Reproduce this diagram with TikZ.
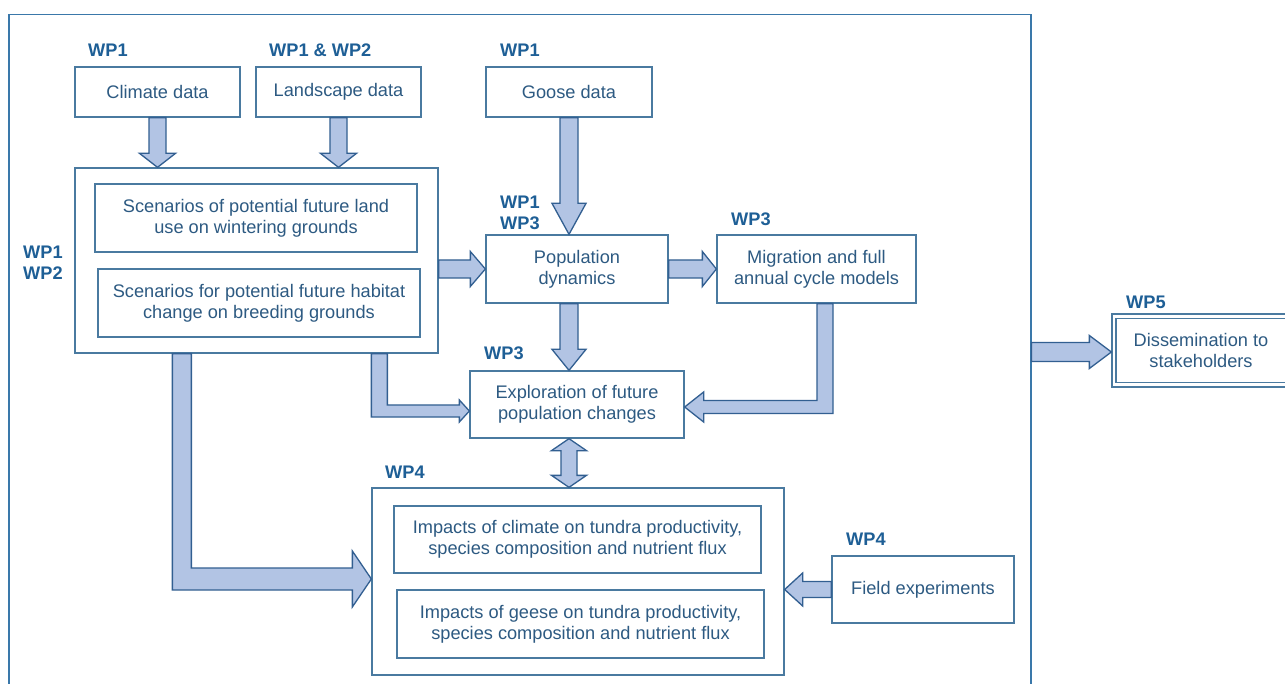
\documentclass[tikz,border=0pt]{standalone}
\usepackage{fontspec}
\setmainfont{Liberation Sans}
\usetikzlibrary{calc}
\definecolor{labc}{HTML}{1E5F96}
\definecolor{txtc}{HTML}{2D5A82}
\definecolor{boxc}{HTML}{4A7AA0}
\definecolor{arrfill}{HTML}{B2C4E4}
\definecolor{arrline}{HTML}{325F91}
\definecolor{framec}{HTML}{3A78AA}
\newcommand\fsz{\fontsize{18.2}{21}\selectfont}
% vertical arrow pointing down: #1 start, #2 tip, #3 shaft half, #4 head half, #5 head length
\newcommand\ArrDown[5]{\draw[blk] ($(#1)+(-#3,0)$) -- ($(#2)+(-#3,-#5)$) -- ($(#2)+(-#4,-#5)$) -- (#2) -- ($(#2)+(#4,-#5)$) -- ($(#2)+(#3,-#5)$) -- ($(#1)+(#3,0)$) -- cycle;}
\newcommand\ArrRight[5]{\draw[blk] ($(#1)+(0,-#3)$) -- ($(#2)+(-#5,-#3)$) -- ($(#2)+(-#5,-#4)$) -- (#2) -- ($(#2)+(-#5,#4)$) -- ($(#2)+(-#5,#3)$) -- ($(#1)+(0,#3)$) -- cycle;}
\newcommand\ArrLeft[5]{\draw[blk] ($(#1)+(0,-#3)$) -- ($(#2)+(#5,-#3)$) -- ($(#2)+(#5,-#4)$) -- (#2) -- ($(#2)+(#5,#4)$) -- ($(#2)+(#5,#3)$) -- ($(#1)+(0,#3)$) -- cycle;}
\begin{document}
\begin{tikzpicture}[x=1pt,y=-1pt,
  box/.style={draw=boxc, line width=1.3pt, fill=white, text=txtc, align=center, font=\fsz, inner sep=0pt},
  lab/.style={anchor=west, font=\bfseries\fsz, text=labc, inner sep=0pt, align=left},
  blk/.style={fill=arrfill, draw=arrline, line width=1.3pt, line join=miter}]
\useasboundingbox (0,0) rectangle (1285,684);
\clip (0,0) rectangle (1285,684);
\fill[white] (0,0) rectangle (1285,684);
% outer frame
\node[draw=framec, line width=1.5pt, minimum width=1022pt, minimum height=720pt, anchor=north west, inner sep=0pt] (frame) at (8,14) {};
% top data boxes
\node[box, minimum width=165pt, minimum height=50pt] (climate) at (157.5,92) {Climate data};
\node[box, minimum width=165pt, minimum height=50pt] (land) at (338.5,92) {Landscape data};
\node[box, minimum width=166pt, minimum height=50pt] (goose) at (569,92) {Goose data};
% scenarios
\node[box, minimum width=363pt, minimum height=185pt] (scen) at (256.5,260.5) {};
\node[box, minimum width=322pt, minimum height=68pt] (scen1) at (256,218) {Scenarios of potential future land\\use on wintering grounds};
\node[box, minimum width=322pt, minimum height=68pt] (scen2) at (259,303) {Scenarios for potential future habitat\\change on breeding grounds};
% models
\node[box, minimum width=182pt, minimum height=68pt] (pop) at (577,269) {Population\\dynamics};
\node[box, minimum width=199pt, minimum height=68pt] (mig) at (816.5,269) {Migration and full\\annual cycle models};
\node[box, minimum width=214pt, minimum height=67pt] (expl) at (577,404.5) {Exploration of future\\population changes};
% WP4
\node[box, minimum width=412pt, minimum height=187pt] (wp4) at (578,581.5) {};
\node[box, minimum width=367pt, minimum height=67pt] (imp1) at (577.5,539.5) {Impacts of climate on tundra productivity,\\species composition and nutrient flux};
\node[box, minimum width=367pt, minimum height=68pt] (imp2) at (580.5,624) {Impacts of geese on tundra productivity,\\species composition and nutrient flux};
\node[box, minimum width=182pt, minimum height=67pt] (field) at (923,589.5) {Field experiments};
% dissemination
\node[box, draw=none, fill=none, minimum width=178pt, minimum height=73pt] (diss) at (1201,350.5) {Dissemination to\\stakeholders};
\draw[boxc, line width=1.3pt] (1112,314) rectangle (1300,387);
\draw[boxc, line width=1.3pt] (1116,318.5) rectangle (1300,382.5);
% labels
\node[lab] (l1) at (88,50) {WP1};
\node[lab] (l2) at (269,50) {WP1 \& WP2};
\node[lab] (l3) at (500,50) {WP1};
\node[lab] (l4) at (23,263) {WP1\\WP2};
\node[lab] (l5) at (500,212.5) {WP1\\WP3};
\node[lab] (l6) at (731,219) {WP3};
\node[lab] (l7) at (484,353) {WP3};
\node[lab] (l8) at (385,472) {WP4};
\node[lab] (l9) at (846,539) {WP4};
\node[lab] (l10) at (1126,302) {WP5};
% arrows
\ArrDown{climate.south}{climate.south |- scen.north}{8.5}{18}{14}
\ArrDown{land.south}{land.south |- scen.north}{8.5}{18}{14}
\ArrDown{goose.south}{goose.south |- pop.north}{9}{17}{31}
\ArrRight{scen.east |- pop.west}{pop.west}{9}{17.5}{15}
\ArrRight{pop.east}{mig.west}{9}{17.5}{14}
\ArrDown{goose.south |- pop.south}{goose.south |- expl.north}{9}{17}{21}
\ArrRight{frame.north east |- 0,352}{diss.west |- 0,352}{9.5}{16.5}{22}
\ArrLeft{field.west}{wp4.east |- field.west}{8}{16.5}{18}
% elbow: scenarios -> exploration
\coordinate (e1s) at ($(scen.south west)+(305,0)$);
\coordinate (e1t) at ($(expl.west)+(0,6.5)$);
\draw[blk] ($(e1s)+(-8,0)$) -- ($(e1s |- e1t)+(-8,6)$) -- ($(e1t)+(-10,6)$) -- ($(e1t)+(-10,11)$) -- (e1t) -- ($(e1t)+(-10,-11)$) -- ($(e1t)+(-10,-6)$) -- ($(e1s |- e1t)+(8,-6)$) -- ($(e1s)+(8,0)$) -- cycle;
% elbow: migration -> exploration
\coordinate (e2s) at ($(mig.south)+(8.5,0)$);
\coordinate (e2t) at ($(expl.east)+(0,2.5)$);
\draw[blk] ($(e2s)+(8,0)$) -- ($(e2s |- e2t)+(8,6.5)$) -- ($(e2t)+(19,6.5)$) -- ($(e2t)+(19,15)$) -- (e2t) -- ($(e2t)+(19,-15)$) -- ($(e2t)+(19,-6.5)$) -- ($(e2s |- e2t)+(-8,-6.5)$) -- ($(e2s)+(-8,0)$) -- cycle;
% elbow: scenarios -> WP4
\coordinate (e3s) at ($(scen.south west)+(107.5,0)$);
\coordinate (e3t) at ($(wp4.west)+(0,-2.5)$);
\draw[blk] ($(e3s)+(-9.5,0)$) -- ($(e3s |- e3t)+(-9.5,11)$) -- ($(e3t)+(-19,11)$) -- ($(e3t)+(-19,28)$) -- (e3t) -- ($(e3t)+(-19,-28)$) -- ($(e3t)+(-19,-11)$) -- ($(e3s |- e3t)+(9.5,-11)$) -- ($(e3s)+(9.5,0)$) -- cycle;
% double arrow exploration <-> WP4
\coordinate (d1) at ($(expl.south)+(-8,0)$);
\coordinate (d2) at (d1 |- wp4.north);
\draw[blk] (d1) -- ($(d1)+(17.5,12)$) -- ($(d1)+(8,12)$) -- ($(d2)+(8,-12)$) -- ($(d2)+(17.5,-12)$) -- (d2) -- ($(d2)+(-17.5,-12)$) -- ($(d2)+(-8,-12)$) -- ($(d1)+(-8,12)$) -- ($(d1)+(-17.5,12)$) -- cycle;
\end{tikzpicture}
\end{document}
